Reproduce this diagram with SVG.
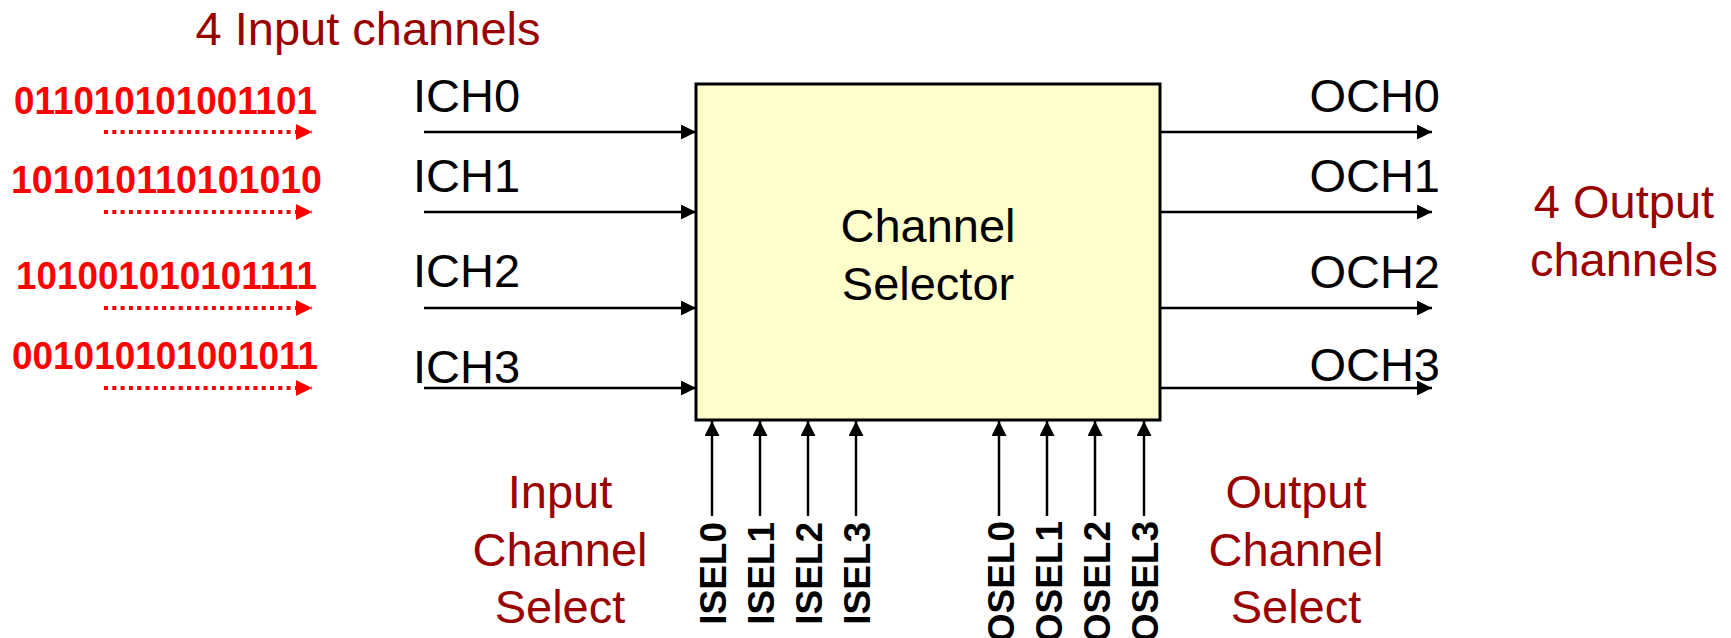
<svg xmlns="http://www.w3.org/2000/svg" width="1731" height="638" viewBox="0 0 1731 638">
<style>
.lbl{font-family:"Liberation Sans",Arial,sans-serif;font-size:47px;fill:#000}
.dr{font-family:"Liberation Sans",Arial,sans-serif;font-size:47px;fill:#990000}
.bits{font-family:"Liberation Sans",Arial,sans-serif;font-size:38px;font-weight:bold;fill:#FF0000}
.sel{font-family:"Liberation Sans",Arial,sans-serif;font-size:37px;font-weight:bold;fill:#000}
.wire{stroke:#000;stroke-width:2.5;fill:none;marker-end:url(#ah)}
.dot{stroke:#FF0000;stroke-width:4;stroke-dasharray:4 4.3;fill:none;marker-end:url(#rah)}
</style>
<defs>
<marker id="ah" viewBox="0 0 15 15" refX="15" refY="7.5" markerWidth="15" markerHeight="15" markerUnits="userSpaceOnUse" orient="auto">
<path d="M0,0 L15,7.5 L0,15 z" fill="#000"/>
</marker>
<marker id="rah" viewBox="0 0 16 16" refX="16" refY="8" markerWidth="16" markerHeight="16" markerUnits="userSpaceOnUse" orient="auto">
<path d="M0,0 L16,8 L0,16 z" fill="#FF0000"/>
</marker>
</defs>
<rect width="1731" height="638" fill="#fff"/>

<g id="selector">
<rect x="696" y="84" width="464" height="336" fill="#FFFFCC" stroke="#000" stroke-width="3"/>
<text class="lbl" x="928" y="242" text-anchor="middle">Channel</text>
<text class="lbl" x="928" y="300" text-anchor="middle">Selector</text>
</g>

<g id="title-in"><text class="dr" x="368" y="45" text-anchor="middle">4 Input channels</text></g>
<g id="title-out">
<text class="dr" x="1624" y="218" text-anchor="middle">4 Output</text>
<text class="dr" x="1624" y="276" text-anchor="middle">channels</text>
</g>
<g id="title-isel">
<text class="dr" x="560" y="508" text-anchor="middle">Input</text>
<text class="dr" x="560" y="566" text-anchor="middle">Channel</text>
<text class="dr" x="560" y="623" text-anchor="middle">Select</text>
</g>
<g id="title-osel">
<text class="dr" x="1296" y="508" text-anchor="middle">Output</text>
<text class="dr" x="1296" y="566" text-anchor="middle">Channel</text>
<text class="dr" x="1296" y="623" text-anchor="middle">Select</text>
</g>

<g id="bits">
<text class="bits" x="14" y="114" textLength="303" lengthAdjust="spacingAndGlyphs">011010101001101</text>
<text class="bits" x="11" y="193" textLength="311" lengthAdjust="spacingAndGlyphs">101010110101010</text>
<text class="bits" x="16" y="289" textLength="301" lengthAdjust="spacingAndGlyphs">101001010101111</text>
<text class="bits" x="12" y="369" textLength="306" lengthAdjust="spacingAndGlyphs">001010101001011</text>
</g>

<g id="in-labels">
<text class="lbl" x="413" y="112">ICH0</text>
<text class="lbl" x="413" y="192">ICH1</text>
<text class="lbl" x="413" y="287">ICH2</text>
<text class="lbl" x="413" y="383">ICH3</text>
</g>
<g id="out-labels">
<text class="lbl" x="1440" y="112" text-anchor="end">OCH0</text>
<text class="lbl" x="1440" y="192" text-anchor="end">OCH1</text>
<text class="lbl" x="1440" y="288" text-anchor="end">OCH2</text>
<text class="lbl" x="1440" y="381" text-anchor="end">OCH3</text>
</g>
<g id="sel-labels">
<text class="sel" transform="translate(726,522) rotate(-90)" text-anchor="end">ISEL0</text>
<text class="sel" transform="translate(774,522) rotate(-90)" text-anchor="end">ISEL1</text>
<text class="sel" transform="translate(822,522) rotate(-90)" text-anchor="end">ISEL2</text>
<text class="sel" transform="translate(870,522) rotate(-90)" text-anchor="end">ISEL3</text>
<text class="sel" transform="translate(1014,521) rotate(-90)" text-anchor="end">OSEL0</text>
<text class="sel" transform="translate(1062,521) rotate(-90)" text-anchor="end">OSEL1</text>
<text class="sel" transform="translate(1110,521) rotate(-90)" text-anchor="end">OSEL2</text>
<text class="sel" transform="translate(1158,521) rotate(-90)" text-anchor="end">OSEL3</text>
</g>

<g id="connectors">
<line class="dot" x1="104" y1="132" x2="312" y2="132"/>
<line class="dot" x1="104" y1="212" x2="312" y2="212"/>
<line class="dot" x1="104" y1="308" x2="312" y2="308"/>
<line class="dot" x1="104" y1="388" x2="312" y2="388"/>
<line class="wire" x1="424" y1="132" x2="696" y2="132"/>
<line class="wire" x1="424" y1="212" x2="696" y2="212"/>
<line class="wire" x1="424" y1="308" x2="696" y2="308"/>
<line class="wire" x1="424" y1="388" x2="696" y2="388"/>
<line class="wire" x1="1160" y1="132" x2="1432" y2="132"/>
<line class="wire" x1="1160" y1="212" x2="1432" y2="212"/>
<line class="wire" x1="1160" y1="308" x2="1432" y2="308"/>
<line class="wire" x1="1160" y1="388" x2="1432" y2="388"/>
<line class="wire" x1="712" y1="516" x2="712" y2="421"/>
<line class="wire" x1="760" y1="516" x2="760" y2="421"/>
<line class="wire" x1="808" y1="516" x2="808" y2="421"/>
<line class="wire" x1="856" y1="516" x2="856" y2="421"/>
<line class="wire" x1="999" y1="516" x2="999" y2="421"/>
<line class="wire" x1="1047" y1="516" x2="1047" y2="421"/>
<line class="wire" x1="1095" y1="516" x2="1095" y2="421"/>
<line class="wire" x1="1144" y1="516" x2="1144" y2="421"/>
</g>
</svg>
